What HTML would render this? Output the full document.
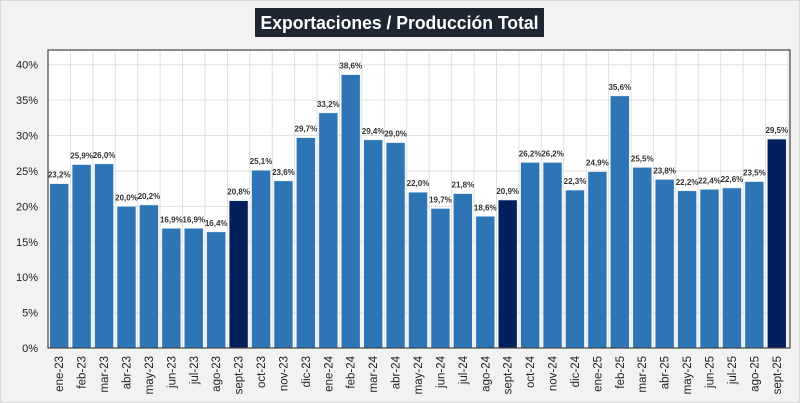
<!DOCTYPE html>
<html><head><meta charset="utf-8"><style>
body{margin:0;background:#f2f2f2;}
svg{display:block;font-family:"Liberation Sans",sans-serif;}
</style></head><body>
<svg id="c" width="800" height="403" viewBox="0 0 800 403">
<rect x="0.5" y="0.5" width="799" height="402" fill="#f2f2f2" stroke="#d9d9d9"/>
<rect x="255" y="8" width="289" height="29" fill="#1e2633"/>
<text x="399.5" y="29" text-anchor="middle" fill="#fff" font-size="18" font-weight="bold" textLength="278" lengthAdjust="spacingAndGlyphs">Exportaciones / Producción Total</text>
<g id="plot"></g>
</svg>
<script>
const categories=["ene-23","feb-23","mar-23","abr-23","may-23","jun-23","jul-23","ago-23","sept-23","oct-23","nov-23","dic-23","ene-24","feb-24","mar-24","abr-24","may-24","jun-24","jul-24","ago-24","sept-24","oct-24","nov-24","dic-24","ene-25","feb-25","mar-25","abr-25","may-25","jun-25","jul-25","ago-25","sept-25"];
const values=[23.2,25.9,26.0,20.0,20.2,16.9,16.9,16.4,20.8,25.1,23.6,29.7,33.2,38.6,29.4,29.0,22.0,19.7,21.8,18.6,20.9,26.2,26.2,22.3,24.9,35.6,25.5,23.8,22.2,22.4,22.6,23.5,29.5];
const highlight=["sept-23","sept-24","sept-25"];
const yTicks=[0,5,10,15,20,25,30,35,40];
const NS="http://www.w3.org/2000/svg";
const g=document.getElementById('plot');
const L=48,R=788,T=50,B=348,Y0=348,Y40=64.7;
const slot=(R-L)/categories.length;
const y=v=>Y0-(v/40)*(Y0-Y40);
const x=i=>L+i*slot;
function mk(t,a){const e=document.createElementNS(NS,t);for(const k in a)e.setAttribute(k,a[k]);g.appendChild(e);return e;}
let r=mk('rect',{x:L,y:T,width:R-L,height:B-T,fill:'#fff'});


yTicks.forEach(t=>{
 let l=mk('line',{x1:L,x2:R,y1:y(t),y2:y(t),stroke:'#e0e0e0','stroke-width':1});
 
 
 let tx=mk('text',{x:L-10,y:y(t)+4,'text-anchor':'end','font-size':11,fill:'#222'});
 tx.textContent=t+'%';
 
 
});
categories.forEach((c,i)=>{
 let l=mk('line',{x1:x(i+1),x2:x(i+1),y1:T,y2:B,stroke:'#e0e0e0','stroke-width':1});
 
 
});
categories.forEach((c,i)=>{
 const v=values[i],bw=slot-3.5,bx=x(i)+1.75;
 let b=mk('rect',{x:bx,y:y(v),width:bw,height:Y0-y(v),fill:highlight.includes(c)?'#03205c':'#2e75b6',stroke:'#deebf7','stroke-width':0.6});
 
 
 let lb=mk('text',{x:x(i)+slot/2,y:y(v)-6,'text-anchor':'middle','font-size':8,'font-weight':'bold',fill:'#333'});
 lb.textContent=v.toFixed(1).replace('.',',')+'%';
 
 
 const cx=x(i)+slot/2+4;
 let xl=mk('text',{x:cx,y:356,'text-anchor':'end','font-size':11.5,fill:'#222',transform:`rotate(-90 ${cx} 356)`});
 xl.textContent=c;
 
 
});
let ax=mk('rect',{x:L,y:T,width:R-L+2,height:B-T,fill:'none',stroke:'#444','stroke-width':1.2});


</script>
</body></html>
